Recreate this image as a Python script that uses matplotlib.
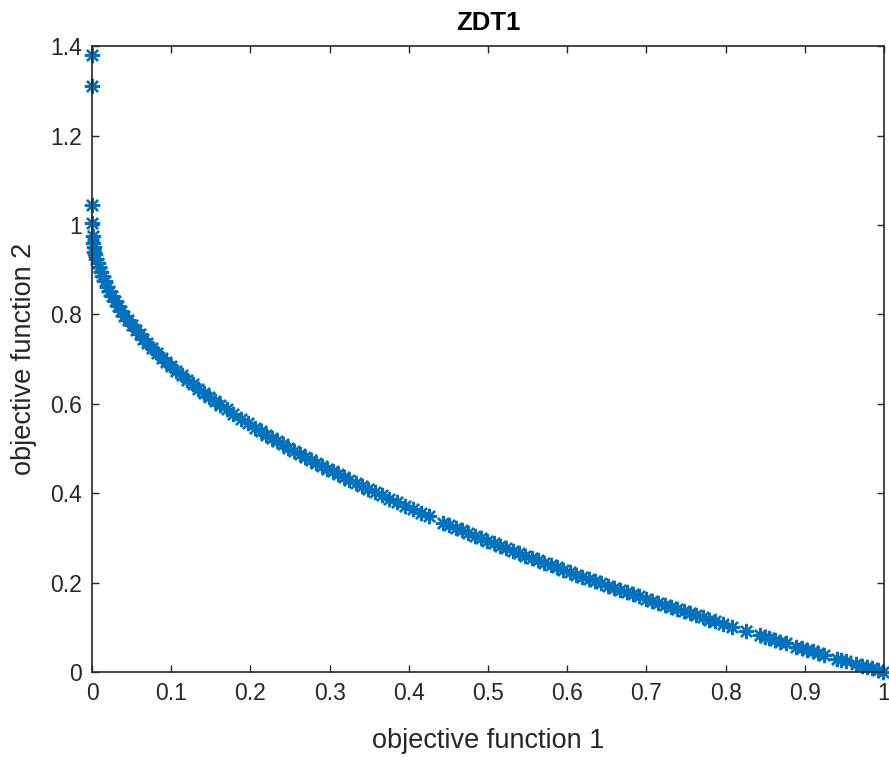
import matplotlib
matplotlib.use('Agg')
import matplotlib.pyplot as plt

plt.rcParams['font.family'] = ['Liberation Sans', 'DejaVu Sans']

# points of the front
f1 = [0.000, 0.000, 0.000, 0.000, 0.001, 0.001, 0.002, 0.003, 0.004, 0.005,
      0.007, 0.009, 0.011, 0.013, 0.016, 0.019, 0.022, 0.025, 0.029, 0.033,
      0.037, 0.041, 0.045, 0.050, 0.055, 0.060, 0.065, 0.070, 0.076, 0.082,
      0.088, 0.094, 0.100, 0.106, 0.113, 0.120, 0.127, 0.134, 0.141, 0.148,
      0.155, 0.162, 0.170, 0.178, 0.188, 0.197, 0.206, 0.213, 0.220, 0.227,
      0.234, 0.241, 0.248, 0.255, 0.262, 0.269, 0.276, 0.283, 0.290, 0.297,
      0.304, 0.311, 0.318, 0.325, 0.333, 0.341, 0.349, 0.357, 0.366, 0.375,
      0.385, 0.395, 0.405, 0.415, 0.425, 0.443, 0.451, 0.459, 0.467, 0.475,
      0.483, 0.491, 0.499, 0.507, 0.515, 0.523, 0.531, 0.539, 0.547, 0.555,
      0.563, 0.571, 0.579, 0.587, 0.595, 0.603, 0.611, 0.619, 0.627, 0.635,
      0.643, 0.651, 0.659, 0.667, 0.675, 0.683, 0.691, 0.699, 0.707, 0.715,
      0.723, 0.731, 0.739, 0.747, 0.755, 0.763, 0.771, 0.779, 0.787, 0.797,
      0.808, 0.826, 0.843, 0.849, 0.855, 0.862, 0.869, 0.876, 0.889, 0.896,
      0.903, 0.910, 0.917, 0.924, 0.940, 0.946, 0.952, 0.965, 0.972, 0.978,
      0.985, 0.992, 0.998]
f2 = [1.380, 1.310, 1.045, 1.005, 0.975, 0.960, 0.950, 0.940, 0.935, 0.925,
      0.915, 0.905, 0.895, 0.885, 0.875, 0.862, 0.852, 0.842, 0.830, 0.818,
      0.808, 0.797, 0.788, 0.776, 0.765, 0.755, 0.745, 0.735, 0.724, 0.714,
      0.703, 0.693, 0.684, 0.674, 0.664, 0.654, 0.644, 0.634, 0.624, 0.615,
      0.606, 0.598, 0.588, 0.578, 0.566, 0.556, 0.546, 0.538, 0.531, 0.524,
      0.516, 0.509, 0.502, 0.495, 0.488, 0.481, 0.475, 0.468, 0.461, 0.455,
      0.449, 0.442, 0.436, 0.430, 0.423, 0.416, 0.409, 0.402, 0.395, 0.388,
      0.380, 0.372, 0.364, 0.356, 0.348, 0.334, 0.328, 0.322, 0.317, 0.311,
      0.305, 0.299, 0.294, 0.288, 0.282, 0.277, 0.271, 0.266, 0.260, 0.255,
      0.250, 0.244, 0.239, 0.234, 0.229, 0.223, 0.218, 0.213, 0.208, 0.203,
      0.198, 0.193, 0.188, 0.183, 0.178, 0.174, 0.169, 0.164, 0.159, 0.154,
      0.150, 0.145, 0.140, 0.136, 0.131, 0.127, 0.122, 0.117, 0.113, 0.107,
      0.101, 0.091, 0.082, 0.079, 0.075, 0.072, 0.068, 0.064, 0.057, 0.053,
      0.050, 0.046, 0.042, 0.039, 0.030, 0.027, 0.024, 0.018, 0.014, 0.011,
      0.008, 0.004, 0.001]

xticks = [0, 0.1, 0.2, 0.3, 0.4, 0.5, 0.6, 0.7, 0.8, 0.9, 1]
yticks = [0, 0.2, 0.4, 0.6, 0.8, 1, 1.2, 1.4]

axcol = '#262626'
fig = plt.figure(figsize=(8.89, 7.57), dpi=100)
ax = fig.add_axes([0.1035, 0.1123, 0.891, 0.8267])
ax.plot(f1, f2, linestyle='none', marker=(8, 2, 0), markersize=11,
        markeredgewidth=1.7, color='#0072BD', clip_on=False)

ax.set_xlim(0, 1)
ax.set_ylim(0, 1.4)
ax.set_xticks(xticks)
ax.set_xticklabels(['0', '0.1', '0.2', '0.3', '0.4', '0.5', '0.6', '0.7', '0.8', '0.9', '1'])
ax.set_yticks(yticks)
ax.set_yticklabels(['0', '0.2', '0.4', '0.6', '0.8', '1', '1.2', '1.4'])
ax.tick_params(direction='in', length=5, width=1, colors=axcol, labelsize=16.5,
               top=True, right=True, pad=7)
for s in ax.spines.values():
    s.set_color(axcol)
    s.set_linewidth(1.2)

ax.set_xlabel('objective function 1', fontsize=19.5, color=axcol, labelpad=17)
ax.set_ylabel('objective function 2', fontsize=19.5, color=axcol, labelpad=10)
ax.set_title('ZDT1', fontsize=18.5, fontweight='bold', color='black', pad=12)

fig.savefig('out.png', dpi=100)
